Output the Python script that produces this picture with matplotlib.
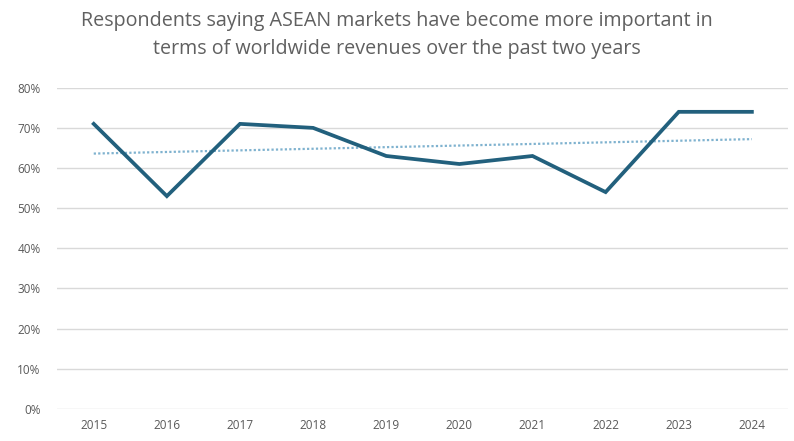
import numpy as np
import matplotlib
matplotlib.use('Agg')
import matplotlib.pyplot as plt
from matplotlib.ticker import PercentFormatter

years = ["2015", "2016", "2017", "2018", "2019", "2020", "2021", "2022", "2023", "2024"]
share = [71, 53, 71, 70, 63, 61, 63, 54, 74, 74]

title = ("Respondents saying ASEAN markets have become more important in\n"
         "terms of worldwide revenues over the past two years")

plt.rcParams['font.family'] = ['Open Sans', 'DejaVu Sans']

fig = plt.figure(figsize=(7.94, 4.41), dpi=100)
ax = fig.add_axes([0.072, 0.073, 0.921, 0.728])

x = np.arange(len(years))
vals = np.array(share, dtype=float)

# linear trend over the series
coef = np.polyfit(x, vals, 1)
ax.plot(x, np.polyval(coef, x), color="#7fb2cf", linewidth=1.6, linestyle=(0, (1, 1)), zorder=2)
ax.plot(x, vals, color="#22607d", linewidth=2.7, solid_joinstyle="miter", zorder=3)

ax.set_xlim(-0.5, len(years) - 0.5)
ax.set_ylim(0, 80)
ax.set_yticks(range(0, 81, 10))
ax.yaxis.set_major_formatter(PercentFormatter(decimals=0))
ax.set_xticks(x)
ax.set_xticklabels(years)
ax.tick_params(axis="both", length=0, labelsize=8.5, labelcolor="#595959")
ax.tick_params(axis="y", pad=12)
ax.tick_params(axis="x", pad=7)
ax.grid(axis="y", color="#d9d9d9", linewidth=1)
ax.set_axisbelow(True)
for s in ax.spines.values():
    s.set_visible(False)

fig.text(0.5, 0.975, title, ha="center", va="top", fontsize=14.2, color="#606060",
         linespacing=1.5)

fig.savefig("out.png", dpi=100)
